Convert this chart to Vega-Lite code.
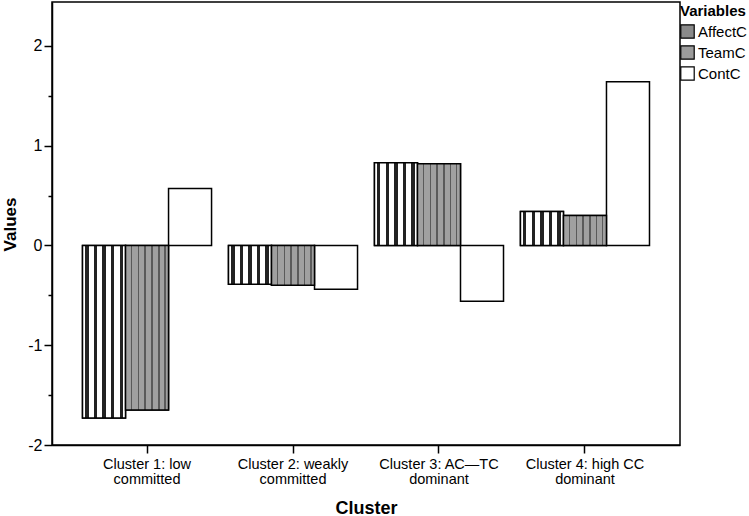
{
  "$schema": "https://vega.github.io/schema/vega-lite/v6.json",
  "width": 628,
  "height": 443,
  "autosize": {"type": "none"},
  "padding": {"left": 52, "top": 2, "right": 69, "bottom": 71},
  "background": "white",
  "config": {
    "font": "Liberation Sans",
    "view": {"stroke": "black", "strokeWidth": 1.5},
    "axis": {
      "domainColor": "black",
      "domainWidth": 1.5,
      "tickColor": "black",
      "tickWidth": 1.5,
      "labelColor": "black",
      "titleColor": "black",
      "grid": false,
      "labelFont": "Liberation Sans",
      "titleFont": "Liberation Sans"
    }
  },
  "data": {
    "values": [
      {"cluster": "Cluster 1: low committed", "variable": "AffectC", "value": -1.73},
      {"cluster": "Cluster 1: low committed", "variable": "TeamC", "value": -1.65},
      {"cluster": "Cluster 1: low committed", "variable": "ContC", "value": 0.57},
      {"cluster": "Cluster 2: weakly committed", "variable": "AffectC", "value": -0.39},
      {"cluster": "Cluster 2: weakly committed", "variable": "TeamC", "value": -0.40},
      {"cluster": "Cluster 2: weakly committed", "variable": "ContC", "value": -0.44},
      {"cluster": "Cluster 3: AC—TC dominant", "variable": "AffectC", "value": 0.83},
      {"cluster": "Cluster 3: AC—TC dominant", "variable": "TeamC", "value": 0.82},
      {"cluster": "Cluster 3: AC—TC dominant", "variable": "ContC", "value": -0.56},
      {"cluster": "Cluster 4: high CC dominant", "variable": "AffectC", "value": 0.34},
      {"cluster": "Cluster 4: high CC dominant", "variable": "TeamC", "value": 0.30},
      {"cluster": "Cluster 4: high CC dominant", "variable": "ContC", "value": 1.64}
    ]
  },
  "encoding": {
    "x": {
      "field": "cluster",
      "type": "nominal",
      "sort": ["Cluster 1: low committed", "Cluster 2: weakly committed", "Cluster 3: AC—TC dominant", "Cluster 4: high CC dominant"],
      "scale": {"paddingInner": 0.116, "paddingOuter": 0.209},
      "axis": {
        "title": "Cluster",
        "labelAngle": 0,
        "labelFontSize": 14.5,
        "labelLineHeight": 15.5,
        "labelPadding": 4,
        "tickSize": 8,
        "labelExpr": "[substring(datum.label, 0, lastindexof(datum.label, ' ')), substring(datum.label, lastindexof(datum.label, ' ') + 1)]",
        "titleFontSize": 18,
        "titleFontWeight": "bold",
        "titleX": 314,
        "titleY": 68,
        "titleBaseline": "alphabetic",
        "titleAlign": "center"
      }
    },
    "xOffset": {
      "field": "variable",
      "type": "nominal",
      "sort": ["AffectC", "TeamC", "ContC"],
      "scale": {"paddingInner": 0, "paddingOuter": 0}
    },
    "y": {
      "field": "value",
      "type": "quantitative",
      "scale": {"domain": [-2, 2.44], "nice": false},
      "axis": {
        "title": "Values",
        "values": [-2, -1.5, -1, -0.5, 0, 0.5, 1, 1.5, 2],
        "labelExpr": "datum.value % 1 === 0 ? '' + datum.value : ''",
        "tickSize": {"condition": {"test": "datum.value % 1 === 0", "value": 8}, "value": 4},
        "labelFontSize": 16,
        "labelPadding": 2,
        "titleFontSize": 17,
        "titleFontWeight": "bold",
        "titleAngle": -90,
        "titleX": -37,
        "titleY": 222,
        "titleAlign": "center",
        "titleBaseline": "alphabetic"
      }
    }
  },
  "layer": [
    {
      "mark": {"type": "bar", "stroke": "black", "strokeWidth": 1.5},
      "encoding": {
        "color": {
          "field": "variable",
          "type": "nominal",
          "sort": ["AffectC", "TeamC", "ContC"],
          "scale": {"domain": ["AffectC", "TeamC", "ContC"], "range": ["#8a8a8a", "#9b9b9b", "#ffffff"]},
          "legend": {
            "title": "Variables",
            "orient": "none",
            "legendX": 628,
            "legendY": 2,
            "titleFontSize": 15,
            "titleFontWeight": "bold",
            "titleColor": "black",
            "titlePadding": 5,
            "labelFontSize": 15,
            "labelColor": "black",
            "labelOffset": 3,
            "symbolType": "square",
            "symbolSize": 180,
            "symbolStrokeColor": "black",
            "symbolStrokeWidth": 1.2,
            "symbolOpacity": 1,
            "rowPadding": 2
          }
        }
      }
    },
    {
      "transform": [{"filter": "datum.variable === 'AffectC'"}],
      "mark": {
        "type": "bar",
        "stroke": "black",
        "strokeWidth": 1.5,
        "fill": {
          "gradient": "linear",
          "x1": 0, "y1": 0, "x2": 1, "y2": 0,
          "stops": [
            {"offset": 0, "color": "#ffffff"}, {"offset": 0.06, "color": "#ffffff"},
            {"offset": 0.06, "color": "#222222"}, {"offset": 0.14, "color": "#222222"},
            {"offset": 0.14, "color": "#ffffff"}, {"offset": 0.26, "color": "#ffffff"},
            {"offset": 0.26, "color": "#222222"}, {"offset": 0.34, "color": "#222222"},
            {"offset": 0.34, "color": "#ffffff"}, {"offset": 0.46, "color": "#ffffff"},
            {"offset": 0.46, "color": "#222222"}, {"offset": 0.54, "color": "#222222"},
            {"offset": 0.54, "color": "#ffffff"}, {"offset": 0.66, "color": "#ffffff"},
            {"offset": 0.66, "color": "#222222"}, {"offset": 0.74, "color": "#222222"},
            {"offset": 0.74, "color": "#ffffff"}, {"offset": 0.86, "color": "#ffffff"},
            {"offset": 0.86, "color": "#222222"}, {"offset": 0.94, "color": "#222222"},
            {"offset": 0.94, "color": "#ffffff"}, {"offset": 1, "color": "#ffffff"}
          ]
        }
      }
    },
    {
      "transform": [{"filter": "datum.variable === 'TeamC'"}],
      "mark": {
        "type": "bar",
        "stroke": "black",
        "strokeWidth": 1.5,
        "fill": {
          "gradient": "linear",
          "x1": 0, "y1": 0, "x2": 1, "y2": 0,
          "stops": [
            {"offset": 0, "color": "#a0a0a0"}, {"offset": 0.12, "color": "#a0a0a0"},
            {"offset": 0.12, "color": "#5a5a5a"}, {"offset": 0.15, "color": "#5a5a5a"},
            {"offset": 0.15, "color": "#a0a0a0"}, {"offset": 0.28, "color": "#a0a0a0"},
            {"offset": 0.28, "color": "#5a5a5a"}, {"offset": 0.31, "color": "#5a5a5a"},
            {"offset": 0.31, "color": "#a0a0a0"}, {"offset": 0.44, "color": "#a0a0a0"},
            {"offset": 0.44, "color": "#5a5a5a"}, {"offset": 0.47, "color": "#5a5a5a"},
            {"offset": 0.47, "color": "#a0a0a0"}, {"offset": 0.6, "color": "#a0a0a0"},
            {"offset": 0.6, "color": "#5a5a5a"}, {"offset": 0.63, "color": "#5a5a5a"},
            {"offset": 0.63, "color": "#a0a0a0"}, {"offset": 0.76, "color": "#a0a0a0"},
            {"offset": 0.76, "color": "#5a5a5a"}, {"offset": 0.79, "color": "#5a5a5a"},
            {"offset": 0.79, "color": "#a0a0a0"}, {"offset": 0.9, "color": "#a0a0a0"},
            {"offset": 0.9, "color": "#5a5a5a"}, {"offset": 0.93, "color": "#5a5a5a"},
            {"offset": 0.93, "color": "#a0a0a0"}, {"offset": 1, "color": "#a0a0a0"}
          ]
        }
      }
    }
  ]
}
